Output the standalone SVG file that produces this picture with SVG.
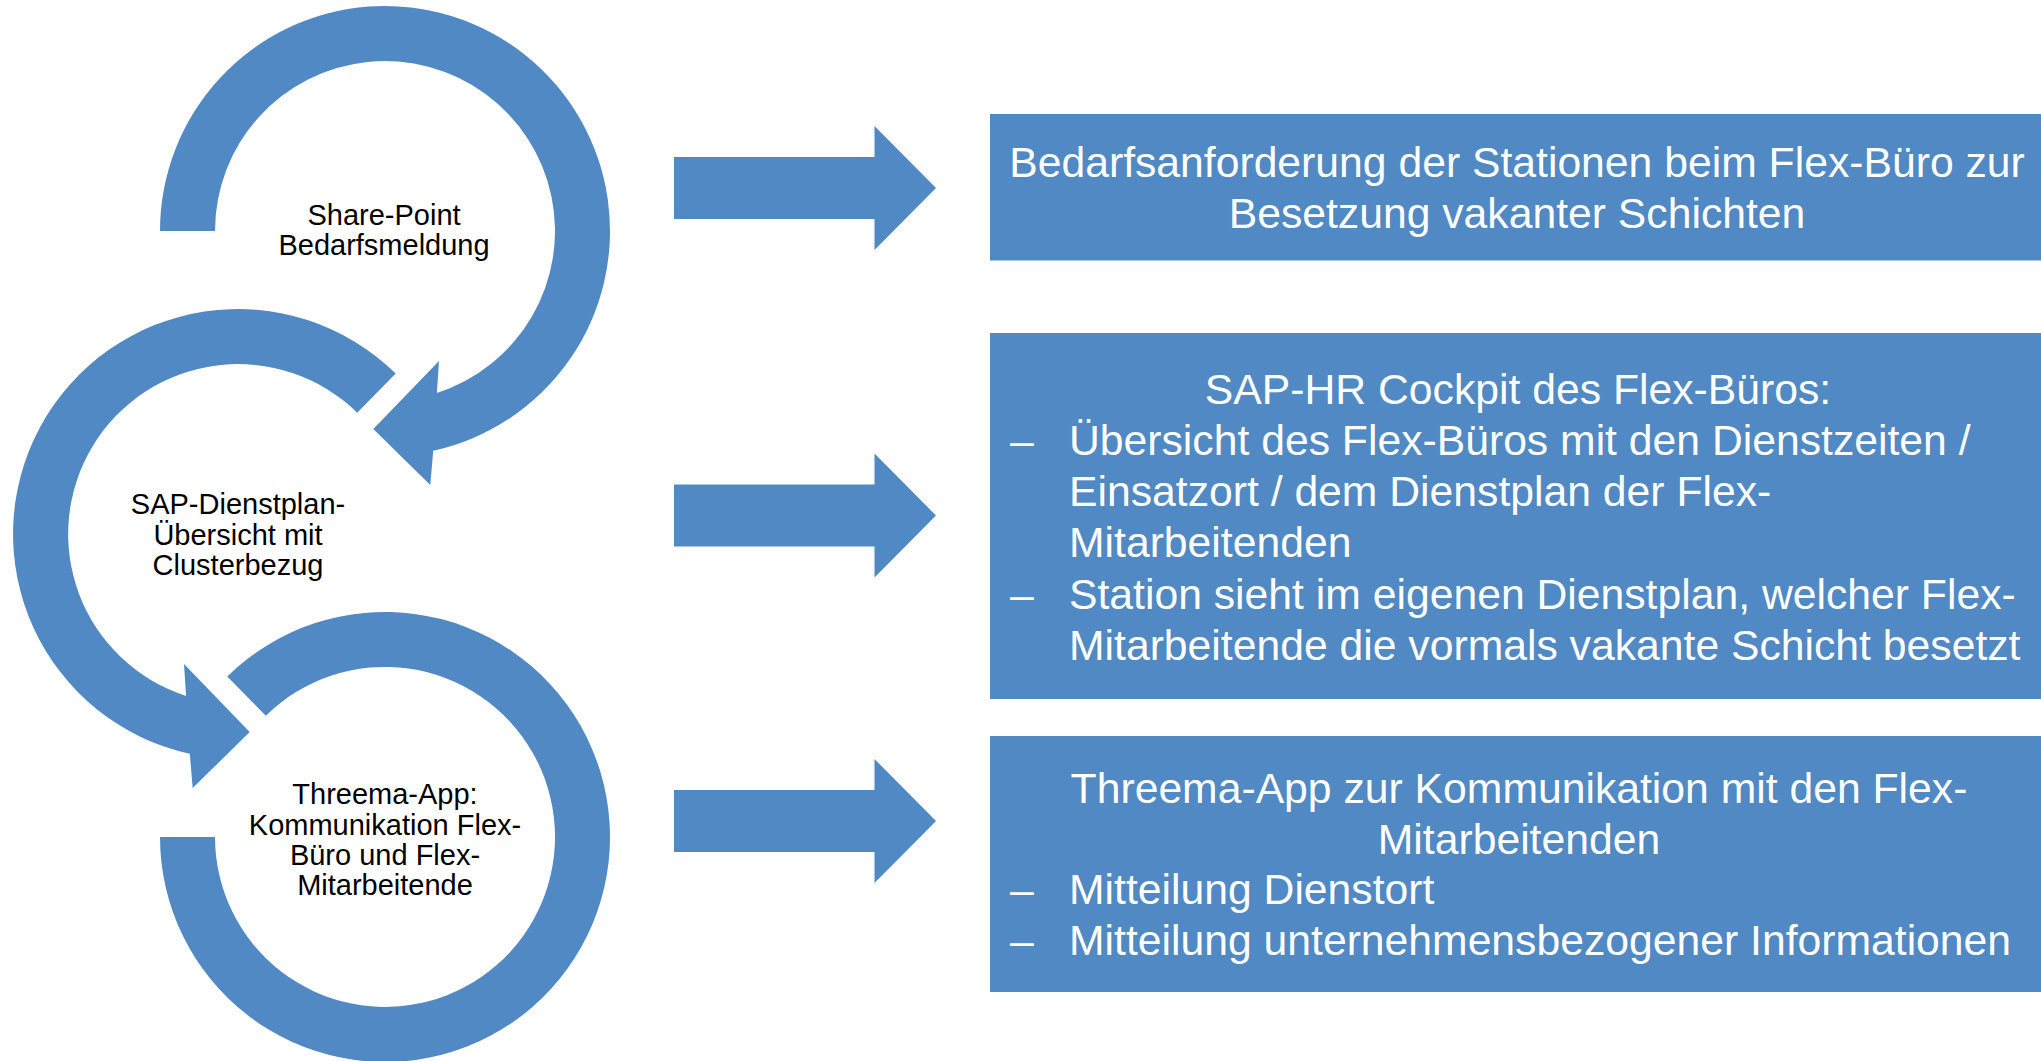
<svg xmlns="http://www.w3.org/2000/svg" width="2041" height="1061" viewBox="0 0 2041 1061">
<style>
.shape{fill:#5089C3;stroke:none}
.ctext{font-family:"Liberation Sans",Arial,sans-serif;font-size:29px;fill:#000;text-anchor:middle}
.btext{font-family:"Liberation Sans",Arial,sans-serif;font-size:42.7px;fill:#fff}
.mid{text-anchor:middle}
</style>
<rect width="2041" height="1061" fill="#fff"/>
<g id="circle1">
<path class="shape" d="M160,231 A225,225 0 1 1 433.2,450.8 L430.3,485 L373.3,429 L439,361 L436.9,392.9 A170,170 0 1 0 215,231 Z"/>
<text class="ctext" x="384" y="225">Share-Point</text>
<text class="ctext" x="384" y="254.5">Bedarfsmeldung</text>
</g>
<g id="circle2">
<path class="shape" d="M395.7,373.5 A225,225 0 1 0 189.8,753.8 L192.7,788 L249.7,732 L184,664 L186.1,695.9 A170,170 0 1 1 357.2,412.7 Z"/>
<text class="ctext" x="238" y="514">SAP-Dienstplan-</text>
<text class="ctext" x="238" y="544.5">Übersicht mit</text>
<text class="ctext" x="238" y="575">Clusterbezug</text>
</g>
<g id="circle3">
<path class="shape" d="M227.3,676.5 A225,225 0 1 1 160,837 L215,837 A170,170 0 1 0 265.8,715.7 Z"/>
<text class="ctext" x="385" y="804">Threema-App:</text>
<text class="ctext" x="385" y="835">Kommunikation Flex-</text>
<text class="ctext" x="385" y="865">Büro und Flex-</text>
<text class="ctext" x="385" y="895">Mitarbeitende</text>
</g>
<g id="connectors">
<polygon class="shape" points="674,157 874.5,157 874.5,126 936,188 874.5,250 874.5,219 674,219"/>
<polygon class="shape" points="674,484.5 874.5,484.5 874.5,453.5 936,515.5 874.5,577.5 874.5,546.5 674,546.5"/>
<polygon class="shape" points="674,790 874.5,790 874.5,759 936,821 874.5,883 874.5,852 674,852"/>
</g>
<g id="box1">
<rect class="shape" x="990" y="114" width="1060" height="146.5"/>
<text class="btext mid" x="1517" y="176.7">Bedarfsanforderung der Stationen beim Flex-Büro zur</text>
<text class="btext mid" x="1517" y="228">Besetzung vakanter Schichten</text>
</g>
<g id="box2">
<rect class="shape" x="990" y="333" width="1060" height="366"/>
<text class="btext mid" x="1518" y="403.5">SAP-HR Cockpit des Flex-Büros:</text>
<text class="btext" x="1010" y="455">–</text>
<text class="btext" x="1069" y="455">Übersicht des Flex-Büros mit den Dienstzeiten /</text>
<text class="btext" x="1069" y="506">Einsatzort / dem Dienstplan der Flex-</text>
<text class="btext" x="1069" y="557">Mitarbeitenden</text>
<text class="btext" x="1010" y="608.5">–</text>
<text class="btext" x="1069" y="608.5">Station sieht im eigenen Dienstplan, welcher Flex-</text>
<text class="btext" x="1069" y="659.5">Mitarbeitende die vormals vakante Schicht besetzt</text>
</g>
<g id="box3">
<rect class="shape" x="990" y="736" width="1060" height="256"/>
<text class="btext mid" x="1519" y="802.7">Threema-App zur Kommunikation mit den Flex-</text>
<text class="btext mid" x="1519" y="853.5">Mitarbeitenden</text>
<text class="btext" x="1010" y="904">–</text>
<text class="btext" x="1069" y="904">Mitteilung Dienstort</text>
<text class="btext" x="1010" y="955">–</text>
<text class="btext" x="1069" y="955">Mitteilung unternehmensbezogener Informationen</text>
</g>
</svg>
